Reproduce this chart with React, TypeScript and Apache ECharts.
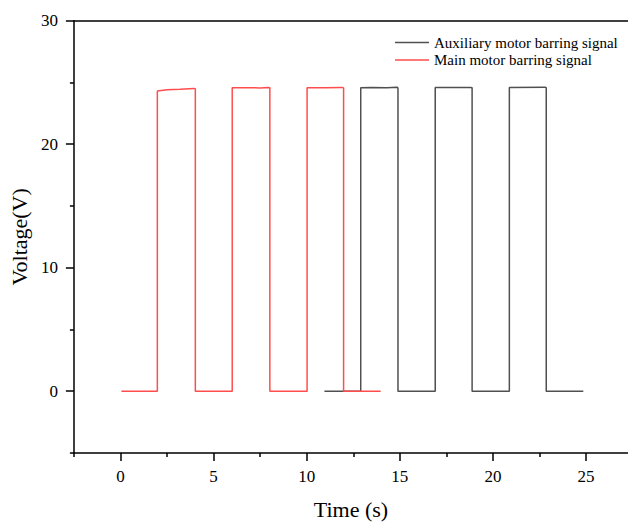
import React, { useEffect, useRef } from "react";
import * as echarts from "echarts";

// Tick values
const xMajor = [0, 5, 10, 15, 20, 25];
const xMinor = [-2.5, 2.5, 7.5, 12.5, 17.5, 22.5];
const yMajor = [0, 10, 20, 30];
const yMinor = [-5, 5, 15, 25];

// Main motor barring signal (red)
const mainTime = [0.05, 1.98, 1.98, 2.5, 3.2, 3.95, 4.02, 4.02, 6.0, 6.0, 7.0, 7.5, 7.95, 8.02, 8.02, 10.02, 10.02, 11.0, 11.9, 11.98, 11.98, 13.97];
const mainVolt = [0, 0, 24.3, 24.4, 24.45, 24.52, 24.5, 0, 0, 24.58, 24.58, 24.56, 24.6, 24.58, 0, 0, 24.58, 24.58, 24.6, 24.55, 0, 0];

// Auxiliary motor barring signal (grey)
const auxTime = [10.95, 12.9, 12.9, 13.5, 14.3, 14.85, 14.9, 14.9, 16.9, 16.9, 18.8, 18.88, 18.88, 20.88, 20.88, 22.8, 22.86, 22.86, 24.85];
const auxVolt = [0, 0, 24.58, 24.6, 24.58, 24.62, 24.55, 0, 0, 24.6, 24.6, 24.58, 0, 0, 24.6, 24.62, 24.58, 0, 0];

const seriesNames = ["Auxiliary motor barring signal", "Main motor barring signal"];

const FONT = "'Liberation Serif', 'Times New Roman', serif";

function zip(a: number[], b: number[]) {
  return a.map((v, i) => [v, b[i]]);
}

export default function App() {
  const ref = useRef<HTMLDivElement>(null);
  useEffect(() => {
    if (!ref.current) return;
    const chart = echarts.init(ref.current, undefined, { renderer: "svg" });
    const xMin = -2.5;
    const xMax = 27.25;
    const yMin = -5;
    const yMax = 30;
    const axisLineStyle = { color: "#000", width: 1.5 };
    const labelStyle = { fontFamily: FONT, fontSize: 17, color: "#000" };
    const nameStyle = { fontFamily: FONT, fontSize: 22, color: "#000" };
    chart.setOption({
      animation: false,
      backgroundColor: "#fff",
      grid: { left: 73.5, top: 20.7, right: 0, bottom: 67.5, containLabel: false },
      legend: {
        data: seriesNames,
        orient: "vertical",
        left: 395,
        top: 35,
        padding: 0,
        icon: "rect",
        itemWidth: 34,
        itemHeight: 1.6,
        itemGap: 2.5,
        textStyle: { fontFamily: FONT, fontSize: 15, color: "#000", lineHeight: 15 },
      },
      xAxis: [
        {
          type: "value",
          position: "bottom",
          min: xMin,
          max: xMax,
          name: "Time (s)",
          nameLocation: "middle",
          nameGap: 45,
          nameTextStyle: nameStyle,
          axisLine: { show: true, onZero: false, lineStyle: axisLineStyle },
          axisTick: { show: true, inside: false, length: 8, customValues: xMajor, lineStyle: axisLineStyle },
          axisLabel: { show: true, customValues: xMajor, margin: 15, ...labelStyle },
          splitLine: { show: false },
        },
        {
          type: "value",
          position: "bottom",
          min: xMin,
          max: xMax,
          axisLine: { show: false, onZero: false },
          axisTick: { show: true, inside: false, length: 4, customValues: xMinor, lineStyle: axisLineStyle },
          axisLabel: { show: false },
          splitLine: { show: false },
        },
        {
          type: "value",
          position: "top",
          min: xMin,
          max: xMax,
          axisLine: { show: true, onZero: false, lineStyle: axisLineStyle },
          axisTick: { show: false },
          axisLabel: { show: false },
          splitLine: { show: false },
        },
      ],
      yAxis: [
        {
          type: "value",
          position: "left",
          min: yMin,
          max: yMax,
          name: "Voltage(V)",
          nameLocation: "middle",
          nameGap: 40,
          nameTextStyle: nameStyle,
          axisLine: { show: true, onZero: false, lineStyle: axisLineStyle },
          axisTick: { show: true, inside: false, length: 8, customValues: yMajor, lineStyle: axisLineStyle },
          axisLabel: { show: true, customValues: yMajor, margin: 16, ...labelStyle },
          splitLine: { show: false },
        },
        {
          type: "value",
          position: "left",
          min: yMin,
          max: yMax,
          axisLine: { show: false, onZero: false },
          axisTick: { show: true, inside: false, length: 4, customValues: yMinor, lineStyle: axisLineStyle },
          axisLabel: { show: false },
          splitLine: { show: false },
        },
      ],
      series: [
        {
          name: seriesNames[0],
          type: "line",
          xAxisIndex: 0,
          yAxisIndex: 0,
          symbol: "none",
          color: "#505050",
          lineStyle: { color: "#505050", width: 1.5 },
          data: zip(auxTime, auxVolt),
        },
        {
          name: seriesNames[1],
          type: "line",
          xAxisIndex: 0,
          yAxisIndex: 0,
          symbol: "none",
          color: "#ff4d4d",
          lineStyle: { color: "#ff4d4d", width: 1.5 },
          data: zip(mainTime, mainVolt),
        },
      ],
    });
    return () => chart.dispose();
  }, []);
  return <div ref={ref} style={{ position: "fixed", left: 0, top: 0, width: 628, height: 525 }} />;
}
